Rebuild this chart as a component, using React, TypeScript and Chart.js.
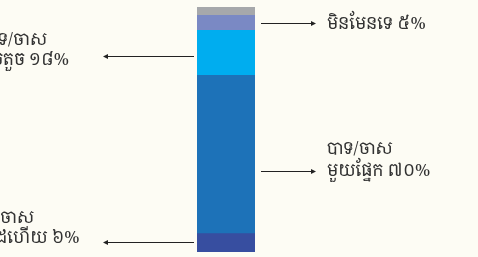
import React, { useEffect, useRef } from "react";
import { Chart, registerables } from "chart.js";

Chart.register(...registerables);

const categories = ["ចម្លើយ"];
const seriesNames = ["បាទ/ចាស ច្រើន", "បាទ/ចាស មួយផ្នែក", "បាទ/ចាស តិចតួច", "មិនមែនទេ", "មិនដឹង"];
const seriesValues = [7.5, 64.6, 18.4, 6.1, 3.4];
const seriesColors = ["#374ea0", "#1d72b8", "#00adef", "#7a89c4", "#a6a8ab"];

// label text per series (null = no label)
const labelLines: (string[] | null)[] = [
  ["បាទ/ចាស", "ដហើយ ៦%"],
  ["បាទ/ចាស", "មួយផ្នែក ៧០%"],
  ["បាទ/ចាស", "តិចតួច ១៨%"],
  ["មិនមែនទេ ៥%"],
  null,
];
const labelSides = ["left", "right", "left", "right", null];

const BG = "#fdfcf4";
const FONT = '17px "Noto Serif Khmer", "Khmer OS", "Noto Sans Khmer", "Khmer OS System", serif';

// layout tweaks (positions relative to bar and arrow)
const arrowDy = [-1, 17, 3, 0, 0];
const lineDy: number[][] = [[-24, -4], [-22, 0], [-16, 4], [1], []];
// left labels: [align, x] per line
const leftLinePos: [string, number][][] = [
  [["right", 34], ["left", -4]],
  [],
  [["right", 47], ["right", 69]],
  [],
  [],
];

const annotPlugin = {
  id: "annot",
  beforeDraw(chart: any) {
    const ctx = chart.ctx;
    ctx.save();
    ctx.fillStyle = BG;
    ctx.fillRect(0, 0, chart.width, chart.height);
    ctx.restore();
  },
  afterDraw(chart: any) {
    const ctx = chart.ctx;
    const yS = chart.scales.y;
    const bar = chart.getDatasetMeta(0).data[0];
    const half = bar.width / 2;
    const barLeft = bar.x - half;
    const barRight = bar.x + half;
    let cum = 0;
    ctx.save();
    ctx.font = FONT;
    ctx.textBaseline = "middle";
    ctx.strokeStyle = "#222222";
    ctx.lineWidth = 1;
    seriesValues.forEach((v, i) => {
      const mid = cum + v / 2;
      cum += v;
      const lines = labelLines[i];
      if (!lines) return;
      const ay = Math.round(yS.getPixelForValue(mid) + arrowDy[i]) + 0.5;
      const side = labelSides[i];
      let x1: number, x2: number;
      if (side === "left") {
        x1 = barLeft - 3;
        x2 = barLeft - 93;
      } else {
        x1 = barRight + 6;
        x2 = barRight + 60;
      }
      ctx.beginPath();
      ctx.moveTo(x1, ay);
      ctx.lineTo(x2, ay);
      ctx.stroke();
      const dir = x2 > x1 ? 1 : -1;
      ctx.beginPath();
      ctx.moveTo(x2 + dir * 1, ay);
      ctx.lineTo(x2 - dir * 4, ay - 2.5);
      ctx.lineTo(x2 - dir * 4, ay + 2.5);
      ctx.closePath();
      ctx.fillStyle = "#222222";
      ctx.fill();
      ctx.fillStyle = "#333333";
      lines.forEach((t, j) => {
        const ty = ay + lineDy[i][j];
        if (side === "left") {
          const [al, lx] = leftLinePos[i][j];
          ctx.textAlign = al;
          ctx.fillText(t, lx, ty);
        } else {
          ctx.textAlign = "left";
          ctx.fillText(t, barRight + 72, ty);
        }
      });
    });
    ctx.restore();
  },
};

export default function App() {
  const ref = useRef<HTMLCanvasElement>(null);
  useEffect(() => {
    document.body.style.margin = "0";
    document.body.style.background = BG;
    const chart = new Chart(ref.current!, {
      type: "bar",
      data: {
        labels: categories,
        datasets: seriesValues.map((v, i) => ({
          label: seriesNames[i],
          data: [v],
          backgroundColor: seriesColors[i],
          borderWidth: 0,
          barPercentage: 1,
          categoryPercentage: 1,
        })),
      },
      options: {
        responsive: false,
        animation: false,
        layout: { padding: { left: 197, right: 223, top: 7, bottom: 5 } },
        plugins: { legend: { display: false }, tooltip: { enabled: false } },
        scales: {
          x: { stacked: true, display: false },
          y: { stacked: true, display: false, min: 0, max: 100 },
        },
      },
      plugins: [annotPlugin],
    });
    return () => chart.destroy();
  }, []);
  return (
    <div style={{ width: 478, height: 257 }}>
      <canvas ref={ref} width={478} height={257} style={{ display: "block" }} />
    </div>
  );
}
